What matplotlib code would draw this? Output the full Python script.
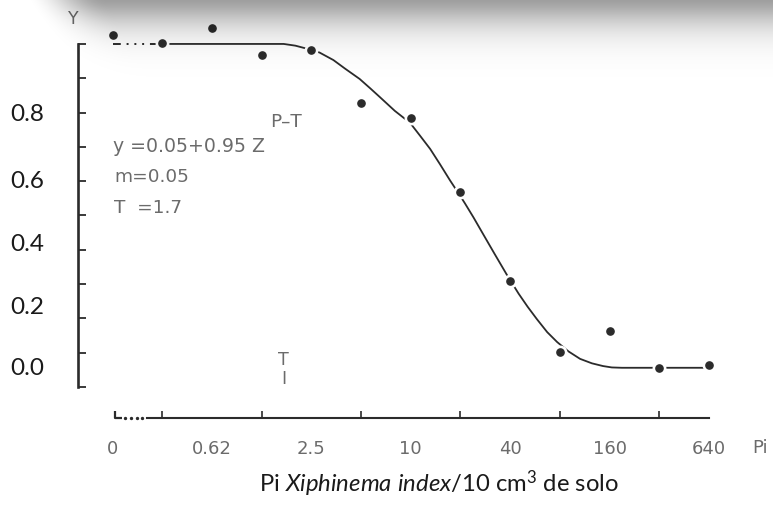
import numpy as np
import matplotlib
matplotlib.use("Agg")
import matplotlib.pyplot as plt
from matplotlib.transforms import blended_transform_factory
from matplotlib.ticker import FixedLocator, NullFormatter, FixedFormatter

# ---------------- data ----------------
pi_levels = [0, 0.3125, 0.625, 1.25, 2.5, 5, 10, 20, 40, 80, 160, 320, 640]
y_obs = [1.026, 1.003, 1.047, 0.968, 0.983, 0.828, 0.783, 0.569, 0.309, 0.102, 0.163, 0.055, 0.064]

curve_pi = [0.3125, 1.7, 2.0, 2.4, 2.8, 3.4, 4.0, 4.9, 5.7, 6.5, 8.0, 9.9, 11.4, 13.1,
            15.0, 17.3, 19.5, 21.3, 24.0, 27.4, 32.0, 38.3, 45.0, 51.0, 58.0, 67.0,
            77.0, 90.0, 106, 125, 146, 165, 190, 640]
curve_y = [1.0, 1.0, 0.995, 0.985, 0.975, 0.953, 0.928, 0.898, 0.870, 0.845, 0.805,
           0.770, 0.732, 0.694, 0.650, 0.602, 0.564, 0.535, 0.494, 0.446, 0.390, 0.326,
           0.272, 0.234, 0.198, 0.160, 0.131, 0.104, 0.082, 0.069, 0.061, 0.057, 0.056,
           0.056]

xtick_values = [0, 0.625, 2.5, 10, 40, 160, 640]
xtick_labels = ["0", "0.62", "2.5", "10", "40", "160", "640"]
xminor_values = [0.3125, 0.625, 1.25, 2.5, 5, 10, 20, 40, 80, 160, 320, 640]
ytick_values = [0.0, 0.1, 0.2, 0.3, 0.4, 0.5, 0.6, 0.7, 0.8, 0.9, 1.0]
ylabel_texts = ["0.8", "0.6", "0.4", "0.2", "0.0"]
T_value = 1.7

# layout helpers (not data)
ZERO_POS = 0.15625          # where "0" sits on the log2 axis (broken axis)
ylabel_pos = [0.796, 0.603, 0.417, 0.236, 0.058]

W, H = 773, 506
fig = plt.figure(figsize=(W / 100, H / 100), dpi=100)
fig.patch.set_facecolor("white")

# top shadow of the scanned page (drawn over everything)
yy, xx = np.mgrid[0:H, 0:W]
fy = 0.38 * np.exp(-(yy / 28.0) ** 1.5)
t = np.clip((xx - 25 - 0.6 * yy) / 80.0, 0, 1)
gx = t * t * (3 - 2 * t)
shade = np.zeros((H, W, 4))
shade[..., 3] = fy * gx
fig.figimage(shade, xo=0, yo=0, origin="upper", zorder=10)

def px2fig(x, y):
    return x / W, 1 - y / H

ax = fig.add_axes([78 / W, (H - 419) / H, (730 - 78) / W, (419 - 35) / H])
ax.patch.set_alpha(0)
ax.set_xscale("log", base=2)
ax.set_xlim(0.0965, 857.7)
ax.set_ylim(-0.0904, 1.029)

dark = "#2b2b2b"
grey = "#6b6b6b"

x_plot = [ZERO_POS if p == 0 else p for p in pi_levels]

# leading broken segment (dash-dot-dot)
ax.plot([ZERO_POS, pi_levels[1]], [curve_y[0], curve_y[0]], color=dark, lw=1.4,
        dashes=(4.0, 3.0, 1.0, 3.0, 1.0, 3.0, 1.0, 3.0), zorder=2, solid_capstyle="butt")
# fitted curve
ax.plot(curve_pi, curve_y, color=dark, lw=1.3, zorder=2)
# halos then dots
ax.plot(x_plot, y_obs, linestyle="none", marker="o", ms=9, mfc="white", mec="white",
        zorder=3, clip_on=False)
ax.plot(x_plot, y_obs, linestyle="none", marker="o", ms=5.2, mfc=dark, mec=dark,
        zorder=4, clip_on=False)

# spines
for s in ["top", "right"]:
    ax.spines[s].set_visible(False)
ax.spines["left"].set_bounds(0, 1)
ax.spines["left"].set_linewidth(1.9)
ax.spines["left"].set_color(dark)
ax.spines["bottom"].set_bounds(0.253, 640)
ax.spines["bottom"].set_linewidth(1.5)
ax.spines["bottom"].set_color(dark)

ax.yaxis.set_major_locator(FixedLocator(ytick_values))
ax.yaxis.set_major_formatter(NullFormatter())
ax.yaxis.set_minor_locator(FixedLocator([]))
ax.tick_params(axis="y", which="major", direction="in", length=6, width=1.3, color=dark)

x_major = [ZERO_POS if v == 0 else v for v in xtick_values]
ax.xaxis.set_major_locator(FixedLocator(x_major))
ax.xaxis.set_major_formatter(FixedFormatter(xtick_labels))
ax.xaxis.set_minor_locator(FixedLocator(xminor_values))
ax.xaxis.set_minor_formatter(NullFormatter())
ax.tick_params(axis="x", which="major", direction="in", length=0, pad=15,
               labelsize=13, labelcolor=grey)
ax.tick_params(axis="x", which="minor", direction="in", length=5, width=1.2, color=dark)
for lab in ax.get_xticklabels():
    lab.set_fontfamily("DejaVu Sans")

# axis break decoration at the left of the x axis
xt = ax.get_xaxis_transform()
ax.plot([0.161, 0.161, 0.178], [0.018, 0.0, 0.0], color=dark, lw=1.6, transform=xt,
        clip_on=False, solid_capstyle="butt")
ax.plot(np.geomspace(0.187, 0.236, 4), [0.0] * 4, linestyle="none", marker="o", ms=1.4,
        color=dark, transform=xt, clip_on=False)

# y labels (overlaid, Calibri-like)
bt = blended_transform_factory(fig.transFigure, ax.transData)
for lab, yp in zip(ylabel_texts, ylabel_pos):
    fig.text(27 / W, yp, lab, transform=bt, ha="center", va="center",
             fontsize=17.5, family="Lato", color="#1a1a1a")

# axis names
fig.text(*px2fig(73, 19), "Y", ha="center", va="center", fontsize=12.5,
         family="DejaVu Sans", color=grey)
fig.text(*px2fig(760, 448), "Pi", ha="center", va="center", fontsize=13,
         family="DejaVu Sans", color=grey)

# equation annotations
fig.text(*px2fig(113, 146), "y =0.05+0.95 Z", ha="left", va="center", fontsize=13.6,
         family="DejaVu Sans", color=grey)
fig.text(*px2fig(270, 122), "P\u2013T", ha="left", va="center", fontsize=13.3,
         family="DejaVu Sans", color=grey)
fig.text(*px2fig(114, 177), "m=0.05", ha="left", va="center", fontsize=13.3,
         family="DejaVu Sans", color=grey)
fig.text(*px2fig(114, 208), "T  =1.7", ha="left", va="center", fontsize=13.3,
         family="DejaVu Sans", color=grey)

# T marker on the x position of T
ax.text(T_value, 0.082, "T", ha="center", va="center", fontsize=12.5,
        family="DejaVu Sans", color=grey)
ax.text(T_value, 0.027, "I", ha="center", va="center", fontsize=12.5,
        family="DejaVu Sans", color=grey)

# x label
plt.rcParams["mathtext.fontset"] = "custom"
plt.rcParams["mathtext.rm"] = "Lato"
plt.rcParams["mathtext.it"] = "Lato:italic"
fig.text(*px2fig(439, 484), r"Pi $\mathit{Xiphinema\ index}$/10 cm$^{3}$ de solo",
         ha="center", va="center", fontsize=17.2, family="Lato", color="#1a1a1a")

fig.savefig("out.png", dpi=100)
